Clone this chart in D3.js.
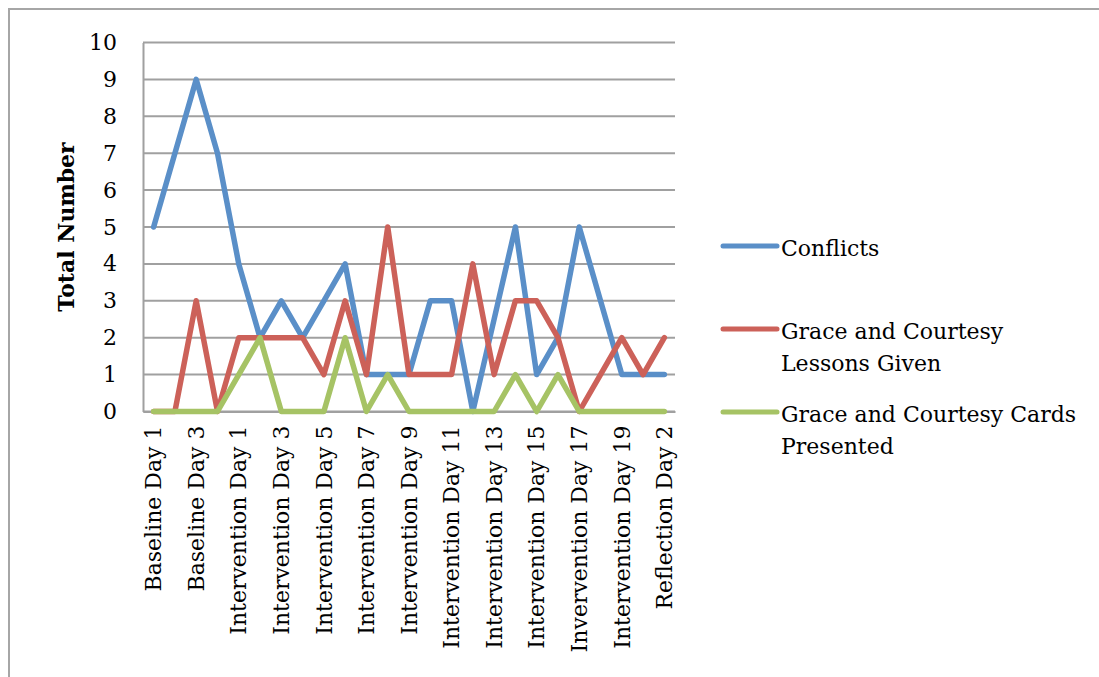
<!DOCTYPE html>
<html>
<head>
<meta charset="utf-8">
<script src="https://cdn.jsdelivr.net/npm/d3@7/dist/d3.min.js"></script>
<style>
  html, body { margin: 0; padding: 0; background: #fff; }
  svg text { font-family: "DejaVu Serif", "Liberation Serif", serif; fill: #000; }
</style>
</head>
<body>
<svg id="chart" width="1099" height="677"></svg>
<script>
// Days observed across the study
const categories = [
  "Baseline Day 1", "Baseline Day 2", "Baseline Day 3", "Baseline Day 4",
  "Intervention Day 1", "Intervention Day 2", "Intervention Day 3", "Intervention Day 4",
  "Intervention Day 5", "Intervention Day 6", "Intervention Day 7", "Intervention Day 8",
  "Intervention Day 9", "Intervention Day 10", "Intervention Day 11", "Intervention Day 12",
  "Intervention Day 13", "Intervention Day 14", "Intervention Day 15", "Intervention Day 16",
  "Invervention Day 17", "Intervention Day 18", "Intervention Day 19",
  "Reflection Day 1", "Reflection Day 2"
];

const conflicts = [5, 7, 9, 7, 4, 2, 3, 2, 3, 4, 1, 1, 1, 3, 3, 0, 2.5, 5, 1, 2, 5, 3, 1, 1, 1];
const lessonsGiven = [0, 0, 3, 0, 2, 2, 2, 2, 1, 3, 1, 5, 1, 1, 1, 4, 1, 3, 3, 2, 0, 1, 2, 1, 2];
const cardsPresented = [0, 0, 0, 0, 1, 2, 0, 0, 0, 2, 0, 1, 0, 0, 0, 0, 0, 1, 0, 1, 0, 0, 0, 0, 0];

const seriesNames = ["Conflicts", "Grace and Courtesy Lessons Given", "Grace and Courtesy Cards Presented"];
const seriesColors = ["#5a8fc8", "#cc6159", "#a6c365"];
const yTicks = [0, 1, 2, 3, 4, 5, 6, 7, 8, 9, 10];

const series = [conflicts, lessonsGiven, cardsPresented].map((values, i) => ({
  name: seriesNames[i], color: seriesColors[i], values
}));

const svg = d3.select("#chart");

// outer chart frame
svg.append("path")
  .attr("d", "M9,680 L9,9 L1102,9")
  .attr("fill", "none")
  .attr("stroke", "#a6a6a6")
  .attr("stroke-width", 2);

const plot = { left: 143, right: 675, top: 42.5, bottom: 411.5 };

const x = d3.scaleBand()
  .domain(categories)
  .range([plot.left, plot.right])
  .paddingInner(0).paddingOuter(0);

const y = d3.scaleLinear()
  .domain([0, 10])
  .range([plot.bottom, plot.top]);

// horizontal gridlines
svg.append("g")
  .selectAll("line")
  .data(yTicks)
  .join("line")
  .attr("x1", plot.left).attr("x2", plot.right)
  .attr("y1", d => y(d)).attr("y2", d => y(d))
  .attr("stroke", "#a0a0a0")
  .attr("stroke-width", 2);

// value axis
const yAxis = svg.append("g")
  .attr("transform", `translate(${plot.left},0)`)
  .call(d3.axisLeft(y).tickValues(yTicks).tickSize(0).tickPadding(26).tickFormat(d3.format("d")));
yAxis.select(".domain").attr("stroke", "#a0a0a0").attr("stroke-width", 2);
yAxis.selectAll("text")
  .style("font-size", "22px")
  .style("font-family", "'DejaVu Serif', serif");

// category axis, every second label shown
const xAxis = svg.append("g")
  .attr("transform", `translate(0,${plot.bottom})`)
  .call(d3.axisBottom(x)
    .tickValues(categories.filter((d, i) => i % 2 === 0))
    .tickSize(0).tickPadding(0));
xAxis.select(".domain").attr("stroke", "#a0a0a0").attr("stroke-width", 2);
xAxis.selectAll("text")
  .style("font-size", "22px")
  .style("font-family", "'DejaVu Serif', serif")
  .attr("text-anchor", "end")
  .attr("dy", "0.35em")
  .attr("transform", "translate(0,14) rotate(-90)")
  .attr("x", 0).attr("y", 0);

// axis title
svg.append("text")
  .attr("transform", `translate(66,${(plot.top + plot.bottom) / 2}) rotate(-90)`)
  .attr("text-anchor", "middle")
  .attr("dy", "0.35em")
  .style("font-size", "22px")
  .style("font-weight", "bold")
  .text("Total Number");

// series lines
const line = d3.line()
  .x((d, i) => x(categories[i]) + x.bandwidth() / 2)
  .y(d => y(d));

svg.append("g")
  .selectAll("path")
  .data(series)
  .join("path")
  .attr("d", d => line(d.values))
  .attr("fill", "none")
  .attr("stroke", d => d.color)
  .attr("stroke-width", 5.5)
  .attr("stroke-linejoin", "round")
  .attr("stroke-linecap", "round");

// legend
const legendRows = [
  { lines: ["Conflicts"], y: 246 },
  { lines: ["Grace and Courtesy", "Lessons Given"], y: 329 },
  { lines: ["Grace and Courtesy Cards", "Presented"], y: 412 }
];
const legend = svg.append("g");
legendRows.forEach((row, i) => {
  legend.append("line")
    .attr("x1", 723).attr("x2", 777)
    .attr("y1", row.y).attr("y2", row.y)
    .attr("stroke", series[i].color)
    .attr("stroke-width", 5)
    .attr("stroke-linecap", "round");
  const t = legend.append("text")
    .attr("x", 781)
    .attr("y", row.y + 2)
    .style("font-size", "22px");
  row.lines.forEach((ln, j) => {
    t.append("tspan")
      .attr("x", 781)
      .attr("dy", j === 0 ? "0.35em" : "1.45em")
      .text(ln);
  });
});
</script>
</body>
</html>
